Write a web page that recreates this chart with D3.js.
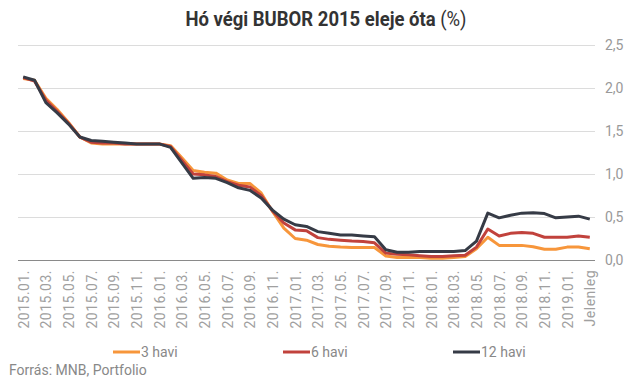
<!DOCTYPE html>
<html><head><meta charset="utf-8">
<script src="https://cdn.jsdelivr.net/npm/d3@7"></script>
<style>body{margin:0;background:#fff}svg{display:block;font-family:Roboto,"Noto Sans",sans-serif}</style>
</head><body><svg id="c" width="631" height="378"></svg>
<script>
const categories = [];
for (let y = 2015; y <= 2019; y++) for (let m = 1; m <= 12; m++) { if (y === 2019 && m > 2) break; categories.push(y + "." + String(m).padStart(2, "0") + "."); }
categories.push("Jelenleg");
const tickLabels = categories.filter((d, i) => i % 2 === 0);
const seriesNames = ["3 havi", "6 havi", "12 havi"];
const colors = ["#f7963b", "#c1423c", "#363b46"];
const havi3 = [2.11,2.09,1.88,1.75,1.60,1.43,1.36,1.35,1.35,1.35,1.35,1.35,1.35,1.33,1.19,1.04,1.02,1.01,0.93,0.89,0.89,0.78,0.565,0.37,0.25,0.23,0.18,0.16,0.15,0.145,0.145,0.145,0.047,0.03,0.03,0.03,0.02,0.02,0.03,0.04,0.13,0.265,0.17,0.17,0.17,0.155,0.125,0.125,0.15,0.15,0.13];
const havi6 = [2.12,2.08,1.86,1.73,1.59,1.43,1.37,1.36,1.36,1.35,1.35,1.35,1.35,1.32,1.16,1.00,0.99,0.97,0.91,0.87,0.85,0.75,0.57,0.43,0.35,0.34,0.26,0.24,0.23,0.22,0.215,0.20,0.08,0.066,0.06,0.05,0.04,0.04,0.05,0.055,0.15,0.36,0.28,0.31,0.32,0.31,0.265,0.265,0.265,0.28,0.265];
const havi12 = [2.13,2.09,1.83,1.71,1.58,1.43,1.39,1.38,1.37,1.36,1.35,1.35,1.35,1.31,1.13,0.95,0.96,0.95,0.90,0.84,0.81,0.72,0.58,0.475,0.41,0.39,0.33,0.31,0.29,0.29,0.28,0.27,0.12,0.09,0.09,0.10,0.10,0.10,0.10,0.11,0.22,0.545,0.49,0.52,0.545,0.55,0.54,0.49,0.50,0.51,0.475];
const yTicks = [0, 0.5, 1, 1.5, 2, 2.5];
const series = [havi3, havi6, havi12];

const svg = d3.select("#c");
const x = d3.scalePoint().domain(categories).range([18, 595]).padding(0.46);
const y = d3.scaleLinear().domain([0, 2.5]).range([260, 45]);

// title
const t = svg.append("text").attr("transform", "translate(326,26) scale(0.925,1)").attr("text-anchor", "middle")
  .attr("font-size", 20).attr("fill", "#333");
t.append("tspan").attr("font-weight", "bold").text("Hó végi BUBOR 2015 eleje óta ");
t.append("tspan").attr("font-weight", "normal").text("(%)");

// y axis grid
const ya = svg.append("g").attr("transform", "translate(595,0)")
  .call(d3.axisRight(y).tickValues(yTicks).tickSize(-577).tickPadding(10)
    .tickFormat(d => d3.format(".1f")(d).replace(".", ",")));
ya.select(".domain").remove();
ya.selectAll(".tick line").attr("stroke", "#dcdcdc").attr("stroke-width", 1);
ya.selectAll(".tick").filter(d => d === 0).select("line").attr("stroke", "#8a8a8a");
ya.selectAll("text").attr("fill", "#999").attr("font-size", 14).attr("font-family", "Roboto");

// x axis
const xa = svg.append("g").attr("transform", "translate(0,260)")
  .call(d3.axisBottom(x).tickValues(tickLabels).tickSize(0).tickPadding(0));
xa.select(".domain").remove();
xa.selectAll("text").attr("fill", "#a0a0a0").attr("font-size", 14).attr("font-family", "Roboto")
  .attr("letter-spacing", 0.5)
  .attr("text-anchor", "end").attr("dy", null)
  .attr("transform", "translate(0,10) rotate(-90)").attr("x", 0).attr("y", 0).attr("dominant-baseline", "central");

// lines
const line = d3.line().x((d, i) => x(categories[i])).y(d => y(d));
series.forEach((s, k) => {
  svg.append("path").datum(s).attr("d", line).attr("fill", "none")
    .attr("stroke", colors[k]).attr("stroke-width", 3).attr("stroke-linejoin", "round");
});

// legend
const legX = [113, 283, 453];
seriesNames.forEach((n, k) => {
  svg.append("line").attr("x1", legX[k]).attr("x2", legX[k] + 27).attr("y1", 352).attr("y2", 352)
    .attr("stroke", colors[k]).attr("stroke-width", 3);
  svg.append("text").attr("x", legX[k] + 28).attr("y", 357).attr("font-size", 14).attr("fill", "#888").text(n);
});
svg.append("text").attr("x", 9).attr("y", 375).attr("font-size", 14).attr("fill", "#888").text("Forrás: MNB, Portfolio");
</script></body></html>
